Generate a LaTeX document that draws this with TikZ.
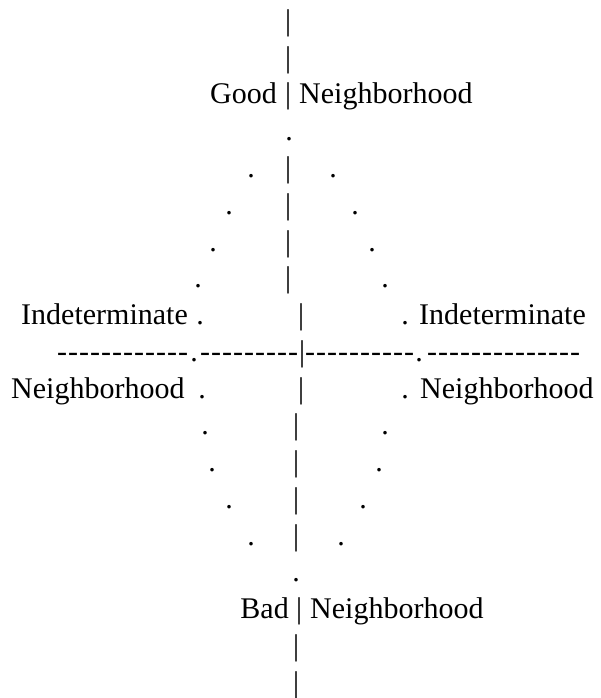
\documentclass[tikz,border=0pt]{standalone}
\usepackage{fontspec}
\setmainfont{Liberation Serif}[Ligatures=TeXOff]
\usepackage{tikz}

\begin{document}
\begin{tikzpicture}[
        x=1pt, y=-1pt,
        every node/.style={inner sep=0pt, font=\fontsize{30}{36}\selectfont},
        glyph/.style={anchor=base},
        wordr/.style={anchor=base west},
        wordl/.style={anchor=base east}
    ]
    \useasboundingbox (0,0) rectangle (600,698);

    % the vertical axis, one bar per text line
    \foreach \n/\x/\y in {1/288/30.5, 2/288/67.25, 3/288/104, 5/288/177.5, 6/288/214.25,
            7/288/251, 8/288/287.75, 9/301/324.5, 10/302/361.25, 11/301/398,
            12/296/434.75, 13/296/471.5, 14/296/508.25, 15/296/545, 17/299/618.5,
            18/296/655.25, 19/296/692}
        \node[glyph] (bar\n) at (\x,\y) {|};

    % dotted diamond
    \node[glyph] (tip) at (289,140.75) {.};
    \node[glyph] (foot) at (296,581.75) {.};
    \foreach \n/\y/\xl/\xr in {5/177.5/251/333, 6/214.25/229/355, 7/251/213/372,
            8/287.75/198/385, 9/324.5/200/405, 10/361.25/194/419, 11/398/202/405,
            12/434.75/205/385, 13/471.5/212/379, 14/508.25/229/363, 15/545/251/341}
    {
        \node[glyph] (dotl\n) at (\xl,\y) {.};
        \node[glyph] (dotr\n) at (\xr,\y) {.};
    }

    % horizontal axis
    \foreach \i in {0,...,11} \node[glyph] (dasha\i) at (62+11*\i,361.25) {-};
    \foreach \i in {0,...,8}  \node[glyph] (dashb\i) at (205+11*\i,361.25) {-};
    \foreach \i in {0,...,9}  \node[glyph] (dashc\i) at (310+11*\i,361.25) {-};
    \foreach \i in {0,...,13} \node[glyph] (dashd\i) at (432+11*\i,361.25) {-};

    % labels
    \node[wordl] (good) at (277,104) {Good};
    \node[wordr] (goodnb) at (299,104) {Neighborhood};
    \node[wordr] (indl) at (21,324.5) {Indeterminate};
    \node[wordr] (indr) at (419,324.5) {Indeterminate};
    \node[wordr] (nbl) at (11,398) {Neighborhood};
    \node[wordr] (nbr) at (420,398) {Neighborhood};
    \node[wordl] (bad) at (289,618.5) {Bad};
    \node[wordr] (badnb) at (310,618.5) {Neighborhood};
\end{tikzpicture}
\end{document}
